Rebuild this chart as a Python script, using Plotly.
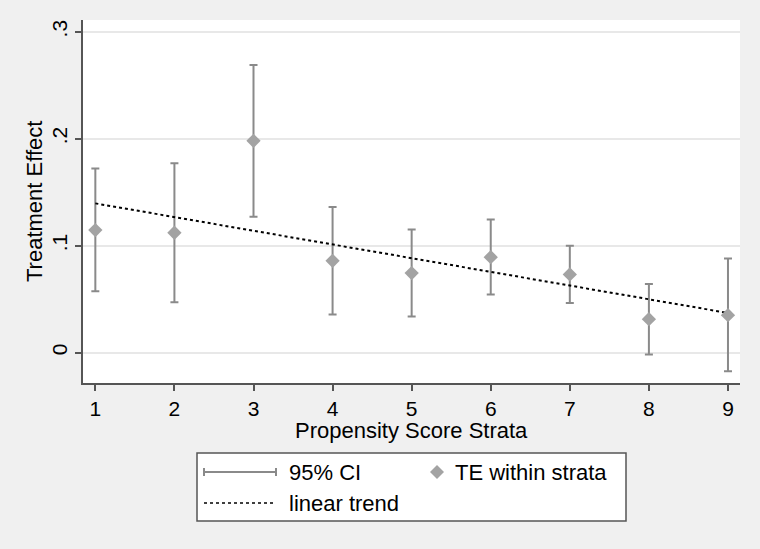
import plotly.graph_objects as go

# data
strata = [1, 2, 3, 4, 5, 6, 7, 8, 9]
te = [0.1145, 0.112, 0.198, 0.0858, 0.0743, 0.0892, 0.073, 0.0312, 0.0349]
ci_upper = [0.172, 0.177, 0.269, 0.136, 0.115, 0.1245, 0.0998, 0.0642, 0.088]
ci_lower = [0.0574, 0.047, 0.127, 0.0356, 0.0337, 0.0543, 0.0464, -0.0019, -0.0175]
trend_x = [1, 9]
trend_y = [0.1395, 0.037]
ytick_vals = [0, 0.1, 0.2, 0.3]
ytick_text = ["0", ".1", ".2", ".3"]

FONT = "Liberation Sans, Arial, Helvetica, sans-serif"
BG = "#f0f0f0"
CI_COLOR = "#8a8a8a"
MARKER_COLOR = "#a3a3a3"

# plot area in pixels (used to place the hand-drawn legend)
W, H = 760, 549
L, R, T, B = 83, 20, 20, 166
PW, PH = W - L - R, H - T - B


def px(x):
    return (x - L) / PW


def py(y):
    return (H - B - y) / PH


fig = go.Figure()

# confidence intervals as error bars (no visible markers)
fig.add_trace(go.Scatter(
    x=strata, y=te,
    mode='markers',
    marker=dict(size=1, color='rgba(0,0,0,0)'),
    error_y=dict(
        type='data', symmetric=False,
        array=[u - m for u, m in zip(ci_upper, te)],
        arrayminus=[m - lo for lo, m in zip(ci_lower, te)],
        color=CI_COLOR, thickness=2, width=4
    ),
    showlegend=False, hoverinfo='skip'
))

# linear trend
fig.add_trace(go.Scatter(
    x=trend_x, y=trend_y, mode='lines',
    line=dict(color='black', width=2, dash='dot'),
    showlegend=False
))

# point estimates
fig.add_trace(go.Scatter(
    x=strata, y=te, mode='markers',
    marker=dict(symbol='diamond', size=11, color=MARKER_COLOR),
    showlegend=False
))

fig.update_layout(
    width=W, height=H,
    margin=dict(l=L, r=R, t=T, b=B),
    paper_bgcolor=BG,
    plot_bgcolor='white',
    font=dict(family=FONT, size=21, color='black'),
    showlegend=False
)

fig.update_xaxes(
    range=[0.844, 9.152],
    tickvals=strata,
    ticks='outside', ticklen=6, tickwidth=1.5, tickcolor='#555555',
    showline=True, linecolor='#555555', linewidth=1.5,
    showgrid=False, zeroline=False,
    tickfont=dict(size=21)
)
fig.update_yaxes(
    range=[-0.0285, 0.311],
    tickvals=ytick_vals, ticktext=ytick_text,
    tickangle=-90,
    ticks='outside', ticklen=6, tickwidth=1.5, tickcolor='#555555',
    showline=True, linecolor='#555555', linewidth=1.5,
    showgrid=True, gridcolor='#e8e8e8', gridwidth=1.5,
    zeroline=False,
    tickfont=dict(size=21)
)

# axis titles
fig.add_annotation(text="Propensity Score Strata", xref='paper', yref='paper',
                   x=px(411), y=py(430), showarrow=False,
                   font=dict(size=22), xanchor='center', yanchor='middle')
fig.add_annotation(text="Treatment Effect", xref='paper', yref='paper',
                   x=px(35), y=py(202), showarrow=False, textangle=-90,
                   font=dict(size=22), xanchor='center', yanchor='middle')

# legend box
fig.add_shape(type='rect', xref='paper', yref='paper',
              x0=px(197), x1=px(626), y0=py(453), y1=py(521),
              line=dict(color='#555555', width=1.5), fillcolor='white', layer='above')
# 95% CI symbol
fig.add_shape(type='line', xref='paper', yref='paper',
              x0=px(204), x1=px(276), y0=py(472), y1=py(472),
              line=dict(color=CI_COLOR, width=2))
for cx in (204, 276):
    fig.add_shape(type='line', xref='paper', yref='paper',
                  x0=px(cx), x1=px(cx), y0=py(468), y1=py(476),
                  line=dict(color=CI_COLOR, width=2))
# linear trend symbol
fig.add_shape(type='line', xref='paper', yref='paper',
              x0=px(204), x1=px(274), y0=py(503), y1=py(503),
              line=dict(color='black', width=1.5, dash='dot'))
# TE diamond symbol
fig.add_shape(type='path', xref='paper', yref='paper',
              path=f"M {px(437)},{py(465)} L {px(444)},{py(472)} L {px(437)},{py(479)} L {px(430)},{py(472)} Z",
              fillcolor=MARKER_COLOR, line=dict(width=0))

for label, x0, y0 in [("95% CI", 287, 472), ("TE within strata", 453, 472), ("linear trend", 287, 503)]:
    fig.add_annotation(text=label, xref='paper', yref='paper',
                       x=px(x0), y=py(y0), showarrow=False,
                       xanchor='left', yanchor='middle', font=dict(size=22))

fig.write_html("out.html", config={'displayModeBar': False},
               post_script="document.body.style.margin='0';")
